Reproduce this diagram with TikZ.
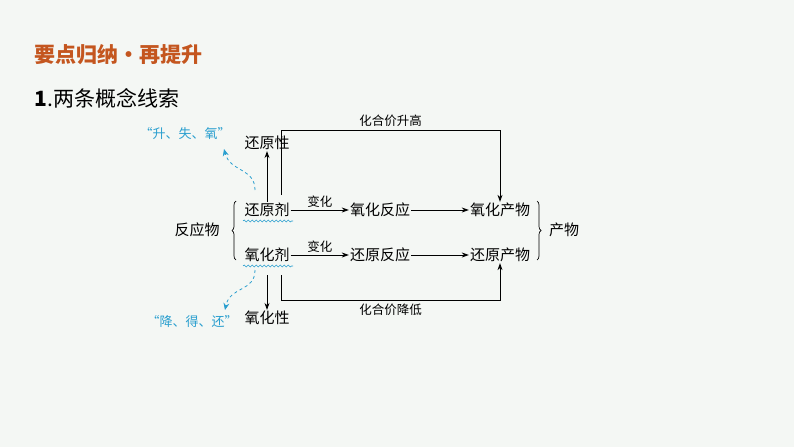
\documentclass[tikz,border=0pt]{standalone}
\usepackage{fontspec}
\usetikzlibrary{arrows.meta,positioning,decorations.pathmorphing,decorations.pathreplacing,calc}
\newfontfamily\cjk{Noto Sans CJK SC}
\definecolor{titleorange}{HTML}{C4561F}
\definecolor{hintblue}{HTML}{2A9FCF}
\definecolor{slidebg}{HTML}{F4F7F4}
\tikzset{
  term/.style={font=\cjk\fontsize{15}{15}\selectfont, inner sep=1pt},
  small/.style={font=\cjk\fontsize{12.5}{12.5}\selectfont, inner sep=1pt},
  hint/.style={font=\cjk\fontsize{13}{13}\selectfont, text=hintblue, inner sep=1pt},
  flow/.style={-{Stealth[length=7pt,width=5pt]}, line width=0.8pt},
  wavy/.style={hintblue, line width=0.6pt, decorate, decoration={snake, amplitude=1pt, segment length=4pt}},
  hintarrow/.style={hintblue, dashed, line width=0.8pt, -{Stealth[length=7pt,width=6pt]}}
}
\begin{document}
\begin{tikzpicture}[x=1pt,y=-1pt]
  \fill[slidebg] (0,0) rectangle (794,447);
  % headings
  \node[anchor=west, text=titleorange, font=\cjk\bfseries\fontsize{21}{21}\selectfont] (title) at (31,55) {要点归纳•再提升};
  \node[anchor=west, font=\cjk\fontsize{21}{21}\selectfont] (sub) at (31,98) {\textbf{1}.两条概念线索};

  % reactants
  \node[term] (fyw) at (197,230) {反应物};
  \node[term] (hyj) at (267,210) {还原剂};
  \node[term] (yhj) at (267,255) {氧化剂};
  \node[term] (hyx) at (267,143) {还原性};
  \node[term] (yhx) at (267,318) {氧化性};
  \draw[decorate, decoration={brace, amplitude=4pt}, line width=0.7pt] (236,260) -- (236,201);
  \draw[wavy] (243,221) -- (293,221);
  \draw[wavy] (243,266) -- (293,266);

  % reactions and products
  \node[term] (yhfy) at (380,210) {氧化反应};
  \node[term] (hyfy) at (380,255) {还原反应};
  \node[term] (yhcw) at (500,210) {氧化产物};
  \node[term] (hycw) at (500,255) {还原产物};
  \node[term] (cw) at (564,230) {产物};
  \draw[decorate, decoration={brace, amplitude=4pt}, line width=0.7pt] (537,201) -- (537,260);

  \draw[flow] (hyj.east) -- (yhfy.west) node[midway, above=1pt, small] {变化};
  \draw[flow] (yhj.east) -- (hyfy.west) node[midway, above=1pt, small] {变化};
  \draw[flow] (yhfy) -- (yhcw);
  \draw[flow] (hyfy) -- (hycw);
  \draw[flow] (hyj.north) -- (hyx.south);
  \draw[flow] (yhj.south |- 0,275) -- (yhx.north);

  % valence changes
  \draw[flow] (281,195) -- (281,130) -- (yhcw.north |- 0,130) node[midway, above=2pt, small] {化合价升高} -- (yhcw.north);
  \draw[flow] (281,275) -- (281,300) -- (hycw.south |- 0,300) node[midway, below=3pt, small] {化合价降低} -- (hycw.south);

  % hints
  \node[hint] (up) at (185,134) {“升、失、氧”};
  \node[hint] (down) at (192,322) {“降、得、还”};
  \draw[hintarrow] (255,190) .. controls (255,168) and (230,172) .. (224,149);
  \draw[hintarrow] (255,270) .. controls (255,292) and (230,286) .. (225,310);
\end{tikzpicture}
\end{document}
